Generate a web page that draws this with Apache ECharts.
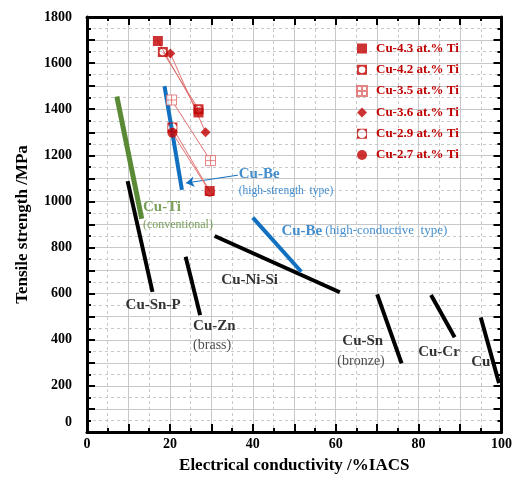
<!DOCTYPE html>
<html><head><meta charset="utf-8">
<script src="https://cdn.jsdelivr.net/npm/echarts@6/dist/echarts.min.js"></script>
<style>html,body{margin:0;padding:0;background:#fff}#c{width:515px;height:481px}</style>
</head><body><div id="c"></div>
<script>
// ---- data ----
const xTicks = [0, 20, 40, 60, 80, 100];
const yTicks = [0, 200, 400, 600, 800, 1000, 1200, 1400, 1600, 1800];

// alloy bands (conductivity %IACS, tensile MPa)
const cuSnP   = [[9.8, 1088], [15.8, 608]];
const cuTi    = [[7.2, 1455], [13.2, 925]];
const cuZn    = [[23.8, 760], [27.3, 507]];
const cuNiSi  = [[30.8, 850], [61.0, 606]];
const cuBeHC  = [[40.0, 930], [51.7, 695]];
const cuSn    = [[70.0, 597], [75.9, 298]];
const cuCr    = [[83.0, 594], [88.7, 411]];
const cu      = [[95.0, 497], [99.4, 212]];
const cuBeHS  = [[18.7, 1500], [22.9, 1050]];

// Cu-Ti new alloys
const ti43 = [[17.1, 1696], [26.9, 1386]];
const ti42 = [[18.3, 1648], [26.9, 1400]];
const ti35 = [[20.4, 1440], [29.8, 1177]];
const ti36 = [[20.1, 1642], [28.6, 1300]];
const ti29 = [[20.6, 1321], [29.6, 1045]];
const ti27 = [[20.6, 1298], [29.6, 1042]];
const tiNames = ['Cu-4.3 at.% Ti', 'Cu-4.2 at.% Ti', 'Cu-3.5 at.% Ti', 'Cu-3.6 at.% Ti', 'Cu-2.9 at.% Ti', 'Cu-2.7 at.% Ti'];

// arrow for Cu-Be high strength label
const arrowCoords = [[36.4, 1114], [23.9, 1080]];

// annotation texts and anchors (data units)
const annoText = [
  '{bb|Cu-Be}', '{br|(high-strength  type)}',
  '{gb|Cu-Ti}', '{gr|(conventional)}',
  '{bb|Cu-Be} {br2|(high-conductive  type)}',
  '{kb|Cu-Ni-Si}', '{kb|Cu-Sn-P}',
  '{kb|Cu-Zn}', '{kr|(brass)}',
  '{kb|Cu-Sn}', '{kr|(bronze)}',
  '{kb|Cu-Cr}', '{kb|Cu}'
];
const annoX = [36.6, 36.6, 13.5, 13.5, 46.9, 32.4, 9.3, 25.6, 25.6, 61.6, 60.4, 79.9, 92.7];
const annoY = [1119, 1046, 977, 898, 873, 659, 551, 461, 377, 392, 308, 348, 305];

// ---- styles ----
const SERIF = "'Liberation Serif','Times New Roman',serif";
const RED = '#c00000', BLUE = '#1170c0', GREEN = '#5a8a35';
const GRID = '#c8c8c8';

const bandSeries = (data, color, w) => ({
  type: 'line', data: data, symbol: 'none', silent: true,
  lineStyle: { color: color, width: w }, z: 3
});

const holeSquare = r => 'path://M0,0L10,0L10,10L0,10Z M5,' + (5 - r) + 'A' + r + ',' + r + ' 0 1 0 5,' + (5 + r) + 'A' + r + ',' + r + ' 0 1 0 5,' + (5 - r) + 'Z';
const gridSquare = 'path://M0.5,0.5L9.5,0.5L9.5,9.5L0.5,9.5Z M5,0.5L5,9.5 M0.5,5L9.5,5';

const tiSymbols = [
  { symbol: 'rect', size: 10, style: { color: RED } },
  { symbol: holeSquare(3.3), size: 10, style: { color: RED } },
  { symbol: gridSquare, size: 10, style: { color: '#fff', borderColor: '#e06666', borderWidth: 1 } },
  { symbol: 'diamond', size: 10, style: { color: RED } },
  { symbol: holeSquare(4.3), size: 10, style: { color: RED } },
  { symbol: 'circle', size: 10, style: { color: RED } }
];
const tiData = [ti43, ti42, ti35, ti36, ti29, ti27];

const series = [
  bandSeries(cuSnP, '#000', 4),
  bandSeries(cuTi, GREEN, 5),
  bandSeries(cuZn, '#000', 4),
  bandSeries(cuNiSi, '#000', 4),
  bandSeries(cuBeHC, BLUE, 4),
  bandSeries(cuSn, '#000', 4),
  bandSeries(cuCr, '#000', 4),
  bandSeries(cu, '#000', 4),
  bandSeries(cuBeHS, BLUE, 4),
  {
    type: 'lines', coordinateSystem: 'cartesian2d', silent: true, z: 4,
    symbol: ['none', 'arrow'], symbolSize: 8,
    lineStyle: { color: BLUE, width: 1, opacity: 1 },
    data: [{ coords: arrowCoords }]
  }
];
tiData.forEach((d, i) => {
  series.push({
    type: 'line', data: d, symbol: 'none', silent: true, z: 5,
    lineStyle: { color: '#e07070', width: 1 }
  });
});
tiData.forEach((d, i) => {
  series.push({
    type: 'scatter', name: tiNames[i], data: d, z: 6,
    symbol: tiSymbols[i].symbol, symbolSize: tiSymbols[i].size,
    itemStyle: tiSymbols[i].style
  });
});
series.push({
  type: 'scatter', silent: true, z: 7, symbolSize: 0,
  data: annoX.map((x, i) => ({ value: [x, annoY[i]], label: { formatter: annoText[i] } })),
  label: {
    show: true, position: [0, 0], align: 'left', verticalAlign: 'middle',
    fontFamily: SERIF,
    rich: {
      bb: { fontFamily: SERIF, fontWeight: 'bold', fontSize: 15, color: BLUE },
      br: { fontFamily: SERIF, fontSize: 11.5, color: BLUE },
      br2: { fontFamily: SERIF, fontSize: 13, color: BLUE },
      gb: { fontFamily: SERIF, fontWeight: 'bold', fontSize: 15, color: GREEN },
      gr: { fontFamily: SERIF, fontSize: 12, color: GREEN },
      kb: { fontFamily: SERIF, fontWeight: 'bold', fontSize: 15, color: '#000' },
      kr: { fontFamily: SERIF, fontSize: 14, color: '#222' }
    }
  }
});

const axisLineStyle = { show: true, onZero: false, lineStyle: { color: '#000', width: 3 } };
const tickStyle = { show: true, inside: true, length: 8, lineStyle: { color: '#000', width: 2 } };
const minorTickStyle = { show: true, splitNumber: 2, length: 4, lineStyle: { color: '#000', width: 2 } };

const option = {
  animation: false,
  backgroundColor: '#fff',
  grid: { left: 87, right: 12, top: 17, bottom: 49 },
  legend: {
    data: tiNames, orient: 'vertical', left: 351, top: 37,
    itemWidth: 10, itemHeight: 10, itemGap: 8.3,
    textStyle: { fontFamily: SERIF, fontWeight: 'bold', fontSize: 13, color: RED, padding: [0, 0, 0, 4] }
  },
  xAxis: [{
    type: 'value', min: 0, max: 100, interval: 10,
    name: 'Electrical conductivity /%IACS', nameLocation: 'middle', nameGap: 25,
    nameTextStyle: { fontFamily: SERIF, fontWeight: 'bold', fontSize: 17, color: '#000' },
    axisLine: axisLineStyle, axisTick: tickStyle, minorTick: minorTickStyle,
    splitLine: { show: true, lineStyle: { color: GRID, width: 1 } },
    minorSplitLine: { show: true, lineStyle: { color: GRID, width: 1, type: [3, 3] } },
    axisLabel: {
      margin: 5, fontFamily: SERIF, fontWeight: 'bold', fontSize: 14, color: '#000',
      formatter: v => xTicks.includes(v) ? String(v) : ''
    }
  }, {
    type: 'value', min: 0, max: 100, interval: 10, position: 'top',
    axisLine: axisLineStyle, axisTick: tickStyle, minorTick: minorTickStyle,
    splitLine: { show: false }, axisLabel: { show: false }
  }],
  yAxis: [{
    type: 'value', min: 0, max: 1800, interval: 100,
    name: 'Tensile strength /MPa', nameLocation: 'middle', nameGap: 56,
    nameTextStyle: { fontFamily: SERIF, fontWeight: 'bold', fontSize: 17, color: '#000' },
    axisLine: axisLineStyle, axisTick: tickStyle, minorTick: minorTickStyle,
    splitLine: { show: true, lineStyle: { color: GRID, width: 1 } },
    minorSplitLine: { show: true, lineStyle: { color: GRID, width: 1, type: [3, 3] } },
    axisLabel: {
      margin: 15, fontFamily: SERIF, fontWeight: 'bold', fontSize: 14, color: '#000',
      formatter: v => v === 0 ? '{z|0}' : (yTicks.includes(v) ? String(v) : ''),
      rich: { z: { fontFamily: SERIF, fontWeight: 'bold', fontSize: 14, color: '#000', padding: [0, 0, 20, 0] } }
    }
  }, {
    type: 'value', min: 0, max: 1800, interval: 100, position: 'right',
    axisLine: axisLineStyle, axisTick: tickStyle, minorTick: minorTickStyle,
    splitLine: { show: false }, axisLabel: { show: false }
  }],
  series: series
};

const chart = echarts.init(document.getElementById('c'), null, { renderer: 'canvas' });
chart.setOption(option);
</script>
</body></html>
